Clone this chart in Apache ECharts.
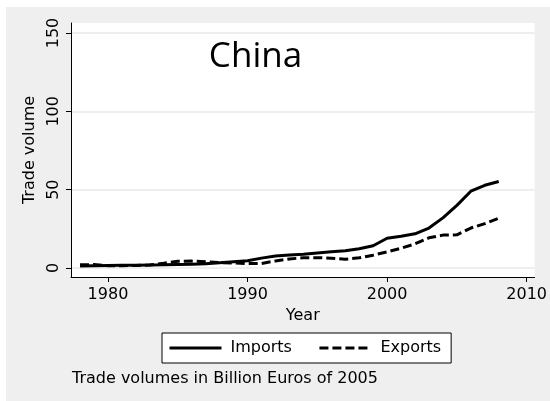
<!DOCTYPE html>
<html>
<head>
<meta charset="utf-8">
<script src="https://cdn.jsdelivr.net/npm/echarts@6/dist/echarts.min.js"></script>
<style>
html,body{margin:0;padding:0;background:#fff;}
#chart{width:550px;height:401px;}
</style>
</head>
<body>
<div id="chart"></div>
<script>
var years = [1978,1979,1980,1981,1982,1983,1984,1985,1986,1987,1988,1989,1990,1991,1992,1993,1994,1995,1996,1997,1998,1999,2000,2001,2002,2003,2004,2005,2006,2007,2008];
var imports = [1.3,1.5,1.6,1.7,1.8,1.9,2.0,2.2,2.4,2.7,3.3,4.0,4.6,6.3,7.6,8.3,8.8,9.6,10.3,11.0,12.3,14.2,19.0,20.3,21.8,25.5,32.0,40.0,49.0,52.8,55.2];
var exports_ = [2.0,2.2,1.5,1.5,1.6,1.9,3.0,4.3,4.4,4.0,3.4,3.2,2.8,2.9,4.5,5.8,6.5,6.6,6.3,5.6,6.5,8.2,10.3,12.6,15.4,19.3,21.0,21.2,25.5,28.3,31.8];
var xTicks = [1980,1990,2000,2010];
var yTicks = [0,50,100,150];
var seriesNames = ['Imports','Exports'];
var titleText = 'China';
var yTitle = 'Trade volume';
var xTitle = 'Year';
var note = 'Trade volumes in Billion Euros of 2005';

function pairs(vals){ return years.map(function(y,i){ return [y, vals[i]]; }); }

var FONT = 'DejaVu Sans';
var chart = echarts.init(document.getElementById('chart'), null, {renderer:'canvas'});
chart.setOption({
  animation: false,
  backgroundColor: '#ffffff',
  graphic: [
    {type:'rect', z:-100, silent:true, shape:{x:6,y:7,width:544,height:394}, style:{fill:'#efefef'}},
    {type:'text', left: 72, top: 371, z:10, style:{text: note, font: '16px "DejaVu Sans"', fill:'#000'}},
    {type:'text', x: 255.5, y: 57, z:10, style:{text: titleText, font: '35px "Open Sans"', fill:'#000', align:'center', verticalAlign:'middle'}}
  ],
  grid: {left:71, right:11, top:23, bottom:124, show:true, backgroundColor:'#ffffff', borderWidth:0},
  legend: {
    left:162, top:333, orient:'horizontal',
    backgroundColor:'#ffffff', borderColor:'#000', borderWidth:1, borderRadius:0,
    padding:[7,10,7,6], itemGap:26, itemWidth:52, itemHeight:14,
    itemStyle:{opacity:0},
    lineStyle:{width:3},
    textStyle:{fontFamily:FONT, fontSize:16, color:'#000', padding:[0,0,0,4]},
    data: seriesNames
  },
  xAxis: {
    type:'value', min:1977.35, max:2010.57,
    name: xTitle, nameLocation:'middle', nameGap:27,
    nameTextStyle:{fontFamily:FONT, fontSize:16, color:'#000'},
    axisLine:{show:true, onZero:false, lineStyle:{color:'#000', width:1}},
    axisTick:{show:true, length:5, customValues:xTicks, lineStyle:{color:'#000'}},
    axisLabel:{customValues:xTicks, margin:10, fontFamily:FONT, fontSize:16, color:'#000', formatter:function(v){return String(v);}},
    splitLine:{show:false}
  },
  yAxis: {
    type:'value', min:-5.74, max:156.38,
    name: yTitle, nameLocation:'middle', nameGap:32, nameRotate:90,
    nameTextStyle:{fontFamily:FONT, fontSize:16, color:'#000'},
    axisLine:{show:true, onZero:false, lineStyle:{color:'#000', width:1}},
    axisTick:{show:true, length:5, customValues:yTicks, lineStyle:{color:'#000'}},
    axisLabel:{customValues:yTicks, rotate:90, margin:9, fontFamily:FONT, fontSize:16, color:'#000', formatter:function(v){return String(v);}},
    splitLine:{show:true, lineStyle:{color:'#e8e8e8', width:1.5}}
  },
  series: [
    {name: seriesNames[0], type:'line', data: pairs(imports), symbol:'none', z:3,
     lineStyle:{color:'#000', width:3, type:'solid'}, itemStyle:{color:'#000'}},
    {name: seriesNames[1], type:'line', data: pairs(exports_), symbol:'none', z:2,
     lineStyle:{color:'#000', width:3, type:[9,4]}, itemStyle:{color:'#000'}}
  ]
});
</script>
</body>
</html>
